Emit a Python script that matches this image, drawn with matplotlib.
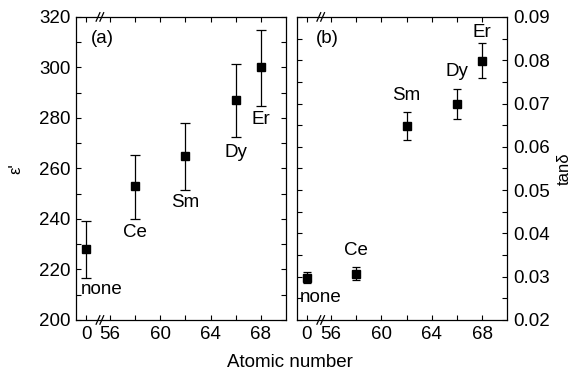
import matplotlib.pyplot as plt
from matplotlib.ticker import MultipleLocator
import matplotlib.transforms as mtransforms

plt.rcParams['font.family'] = ['Liberation Sans', 'DejaVu Sans']
plt.rcParams['font.size'] = 13.5

# data
elements = ['none', 'Ce', 'Sm', 'Dy', 'Er']
atomic = [0, 58, 62, 66, 68]
eps = [228, 253, 265, 287, 300]
eps_lo = [216.6, 240.0, 251.6, 272.6, 284.8]
eps_hi = [239.3, 265.5, 278.0, 301.3, 314.8]
tand = [0.0298, 0.0307, 0.0649, 0.0698, 0.0799]
tand_lo = [0.0285, 0.0292, 0.0616, 0.0664, 0.0758]
tand_hi = [0.0311, 0.0323, 0.0681, 0.0734, 0.0839]

xticks_lab = ['0', '56', '60', '64', '68']
xticks_val = [0, 56, 60, 64, 68]

# position on the broken axis: "0" sits just left of the break
ZERO_POS = 54.1
BREAK_POS = 55.2


def xpos(a):
    return ZERO_POS if a == 0 else a


# label positions (data coords)
lab_a = [(55.35, 212), (58, 234.5), (62, 246.7), (66, 266.5), (68, 279.2)]
lab_b = [(55.2, 0.0251), (58, 0.0360), (62, 0.0719), (66, 0.0773), (68, 0.0865)]


def style_axis(ax):
    ax.set_xlim(53.3, 70)
    ax.set_xticks([xpos(v) for v in xticks_val])
    ax.set_xticklabels(xticks_lab)
    ax.set_xticks([58, 62, 66], minor=True)
    ax.tick_params(which='both', direction='in', top=True, bottom=True,
                   left=True, right=True, length=3.5, width=0.8, pad=4)
    for s in ax.spines.values():
        s.set_linewidth(0.9)
    # break marks
    trans = mtransforms.blended_transform_factory(ax.transData, ax.transAxes)
    for yb in (0, 1):
        for dx in (-0.15, 0.15):
            ax.plot([BREAK_POS + dx - 0.15, BREAK_POS + dx + 0.15],
                    [yb - 0.014, yb + 0.014], color='black', lw=0.9,
                    transform=trans, clip_on=False)


fig = plt.figure(figsize=(5.74, 3.76), dpi=100)
ax1 = fig.add_axes([0.1324, 0.149, 0.366, 0.806])
ax2 = fig.add_axes([0.517, 0.149, 0.367, 0.806])

xs = [xpos(a) for a in atomic]

# (a) permittivity
err_a = [[e - lo for e, lo in zip(eps, eps_lo)], [hi - e for e, hi in zip(eps, eps_hi)]]
ax1.errorbar(xs, eps, yerr=err_a, fmt='s', color='black', ms=5.5,
             capsize=3.6, elinewidth=0.9, capthick=0.9)
ax1.set_ylim(200, 320)
ax1.yaxis.set_major_locator(MultipleLocator(20))
ax1.yaxis.set_minor_locator(MultipleLocator(10))
style_axis(ax1)
ax1.set_ylabel("ε'", labelpad=11, fontsize=12)
ax1.text(0.125, 0.93, '(a)', transform=ax1.transAxes, ha='center', va='center')
for name, (lx, ly) in zip(elements, lab_a):
    ax1.text(lx, ly, name, ha='center', va='center')

# (b) loss tangent
err_b = [[t - lo for t, lo in zip(tand, tand_lo)], [hi - t for t, hi in zip(tand, tand_hi)]]
ax2.errorbar(xs, tand, yerr=err_b, fmt='s', color='black', ms=5.5,
             capsize=2.6, elinewidth=0.9, capthick=0.9)
ax2.set_ylim(0.02, 0.09)
ax2.yaxis.set_major_locator(MultipleLocator(0.01))
ax2.yaxis.set_minor_locator(MultipleLocator(0.005))
ax2.yaxis.set_major_formatter(plt.FormatStrFormatter('%.2f'))
style_axis(ax2)
ax2.tick_params(labelleft=False, labelright=True)
ax2.yaxis.set_label_position('right')
ax2.set_ylabel('tanδ', labelpad=5, fontsize=12)
ax2.text(0.145, 0.93, '(b)', transform=ax2.transAxes, ha='center', va='center')
for name, (lx, ly) in zip(elements, lab_b):
    ax2.text(lx, ly, name, ha='center', va='center')

fig.text(0.505, 0.035, 'Atomic number', ha='center', va='center')

fig.savefig('out.png', dpi=100)
